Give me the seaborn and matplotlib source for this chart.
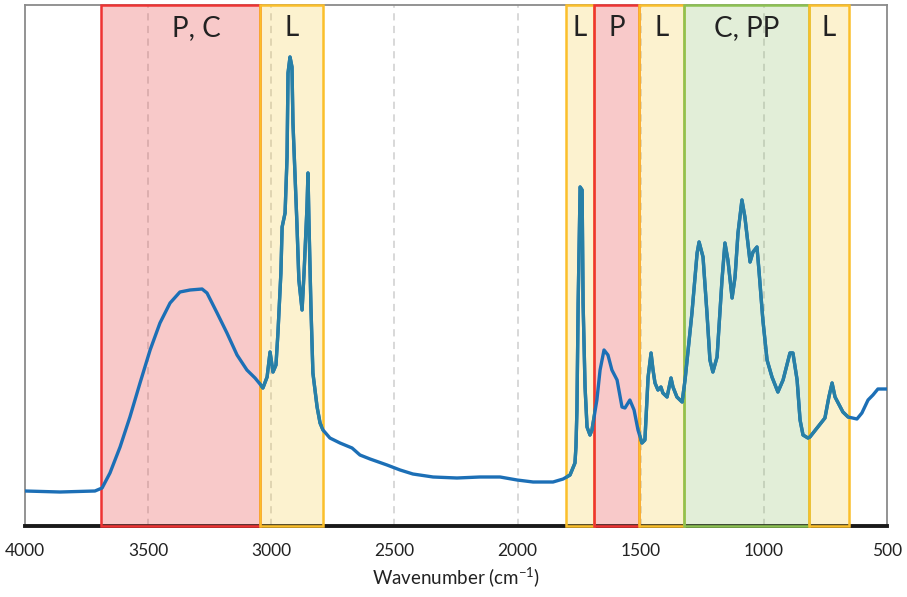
import matplotlib
matplotlib.use("Agg")
import matplotlib.pyplot as plt
import pandas as pd
import seaborn as sns

# FTIR spectrum (wavenumber in cm-1, absorbance in arbitrary units)
wavenumber = [
    4000, 3858, 3716, 3687, 3655, 3614, 3574, 3533, 3492, 3452,
    3411, 3371, 3330, 3281, 3261, 3220, 3180, 3139, 3099, 3066,
    3046, 3034, 3017, 3005, 2993, 2981, 2973, 2961, 2956, 2944,
    2936, 2932, 2924, 2916, 2912, 2896, 2888, 2875, 2867, 2855,
    2851, 2847, 2839, 2831, 2814, 2802, 2790, 2762, 2721, 2672,
    2640, 2599, 2530, 2477, 2425, 2343, 2246, 2153, 2071, 2002,
    1937, 1856, 1815, 1787, 1767, 1763, 1759, 1754, 1746, 1738,
    1734, 1726, 1718, 1706, 1698, 1678, 1665, 1649, 1633, 1617,
    1596, 1576, 1564, 1544, 1527, 1511, 1495, 1483, 1470, 1458,
    1450, 1442, 1430, 1418, 1410, 1393, 1377, 1369, 1353, 1332,
    1320, 1292, 1271, 1263, 1247, 1231, 1219, 1207, 1190, 1170,
    1158, 1146, 1129, 1117, 1105, 1089, 1077, 1056, 1044, 1028,
    1020, 1004, 987, 967, 943, 922, 894, 882, 865, 853,
    841, 821, 813, 784, 752, 736, 723, 711, 679, 658,
    622, 602, 577, 557, 537, 500,
]
absorbance = [
    0.070, 0.068, 0.070, 0.076, 0.106, 0.158, 0.218, 0.286, 0.352, 0.406,
    0.446, 0.468, 0.472, 0.474, 0.466, 0.426, 0.386, 0.342, 0.312, 0.296,
    0.284, 0.276, 0.298, 0.348, 0.308, 0.322, 0.386, 0.506, 0.598, 0.626,
    0.738, 0.906, 0.938, 0.918, 0.806, 0.606, 0.492, 0.432, 0.506, 0.638,
    0.706, 0.606, 0.438, 0.306, 0.238, 0.206, 0.192, 0.176, 0.166, 0.156,
    0.142, 0.134, 0.122, 0.112, 0.104, 0.098, 0.096, 0.098, 0.098, 0.092,
    0.088, 0.088, 0.094, 0.102, 0.126, 0.158, 0.232, 0.446, 0.678, 0.672,
    0.446, 0.278, 0.198, 0.182, 0.192, 0.252, 0.312, 0.352, 0.342, 0.312,
    0.292, 0.238, 0.236, 0.252, 0.232, 0.192, 0.166, 0.172, 0.298, 0.346,
    0.312, 0.286, 0.272, 0.278, 0.266, 0.258, 0.296, 0.278, 0.258, 0.248,
    0.292, 0.426, 0.546, 0.568, 0.538, 0.426, 0.332, 0.308, 0.338, 0.492,
    0.566, 0.532, 0.456, 0.498, 0.586, 0.652, 0.618, 0.528, 0.548, 0.558,
    0.512, 0.412, 0.332, 0.298, 0.268, 0.292, 0.346, 0.346, 0.292, 0.212,
    0.182, 0.176, 0.178, 0.196, 0.216, 0.258, 0.286, 0.258, 0.228, 0.218,
    0.214, 0.226, 0.252, 0.262, 0.274, 0.274,
]

# Assignment bands: label, high / low wavenumber limits, label position, kind
band_labels = ["P, C", "L", "L", "P", "L", "C, PP", "L"]
band_high = [3690, 3045, 1805, 1690, 1505, 1325, 815]
band_low = [3045, 2790, 1690, 1505, 1325, 815, 655]
band_label_x = [3306, 2918, 1748, 1597, 1415, 1070, 735]
band_kind = ["red", "yellow", "yellow", "red", "yellow", "green", "yellow"]

tick_values = [4000, 3500, 3000, 2500, 2000, 1500, 1000, 500]

face = {
    "red": (0.91, 0.31, 0.31, 0.30),
    "yellow": (0.97, 0.80, 0.25, 0.25),
    "green": (0.56, 0.75, 0.40, 0.25),
}
edge = {"red": "#ee3333", "yellow": "#fbbf2a", "green": "#8cc152"}
line_blue = "#1c6fb6"
line_teal = "#2880a6"

sns.set_theme(style="white")
plt.rcParams["font.family"] = ["Lato", "DejaVu Sans"]
plt.rcParams["mathtext.fontset"] = "custom"
plt.rcParams["mathtext.rm"] = "Lato"
plt.rcParams["mathtext.default"] = "regular"

df = pd.DataFrame({"wavenumber": wavenumber, "absorbance": absorbance})

fig = plt.figure(figsize=(9.07, 5.97), dpi=100)
ax = fig.add_axes([25 / 907, 71 / 597, 862 / 907, 521 / 597])

# dashed vertical grid
for t in tick_values[1:-1]:
    ax.axvline(t, color="#d6d6d6", lw=1.3, ls=(0, (4, 3)), zorder=0.5)

# spectrum
sns.lineplot(data=df, x="wavenumber", y="absorbance", sort=False,
             estimator=None, color=line_blue, lw=2.4, ax=ax, zorder=4,
             solid_joinstyle="round", solid_capstyle="round")

# shaded bands
for lab, hi, lo, lx, kind in zip(band_labels, band_high, band_low,
                                 band_label_x, band_kind):
    span = ax.axvspan(lo, hi, facecolor=face[kind], edgecolor=edge[kind],
                      lw=1.8, zorder=3, clip_on=False)
    ax.text(lx, 0.955, lab, transform=ax.get_xaxis_transform(),
            ha="center", va="center", fontsize=20, color="#222222",
            zorder=6)
    if kind != "red":
        sns.lineplot(data=df, x="wavenumber", y="absorbance", sort=False,
                     estimator=None, color=line_teal, lw=2.4, ax=ax,
                     zorder=4.5, solid_joinstyle="round",
                     solid_capstyle="round")
        ax.lines[-1].set_clip_path(span)

ax.set_xlim(4000, 500)
ax.set_ylim(0, 1.042)
ax.set_xticks(tick_values)
ax.set_xticklabels([str(t) for t in tick_values])
ax.set_yticks([])
ax.set_ylabel("")
ax.set_xlabel("Wavenumber (cm$^{-1}$)", fontsize=13.5, color="#222222",
              labelpad=5)
ax.tick_params(axis="x", length=0, pad=12, labelsize=12.5,
               labelcolor="#222222")

for side in ["left", "top", "right"]:
    ax.spines[side].set_color("#8a8a8a")
    ax.spines[side].set_linewidth(1.3)
ax.spines["bottom"].set_color("#1a1a1a")
ax.spines["bottom"].set_linewidth(2.8)

fig.savefig("out.png", dpi=100)
